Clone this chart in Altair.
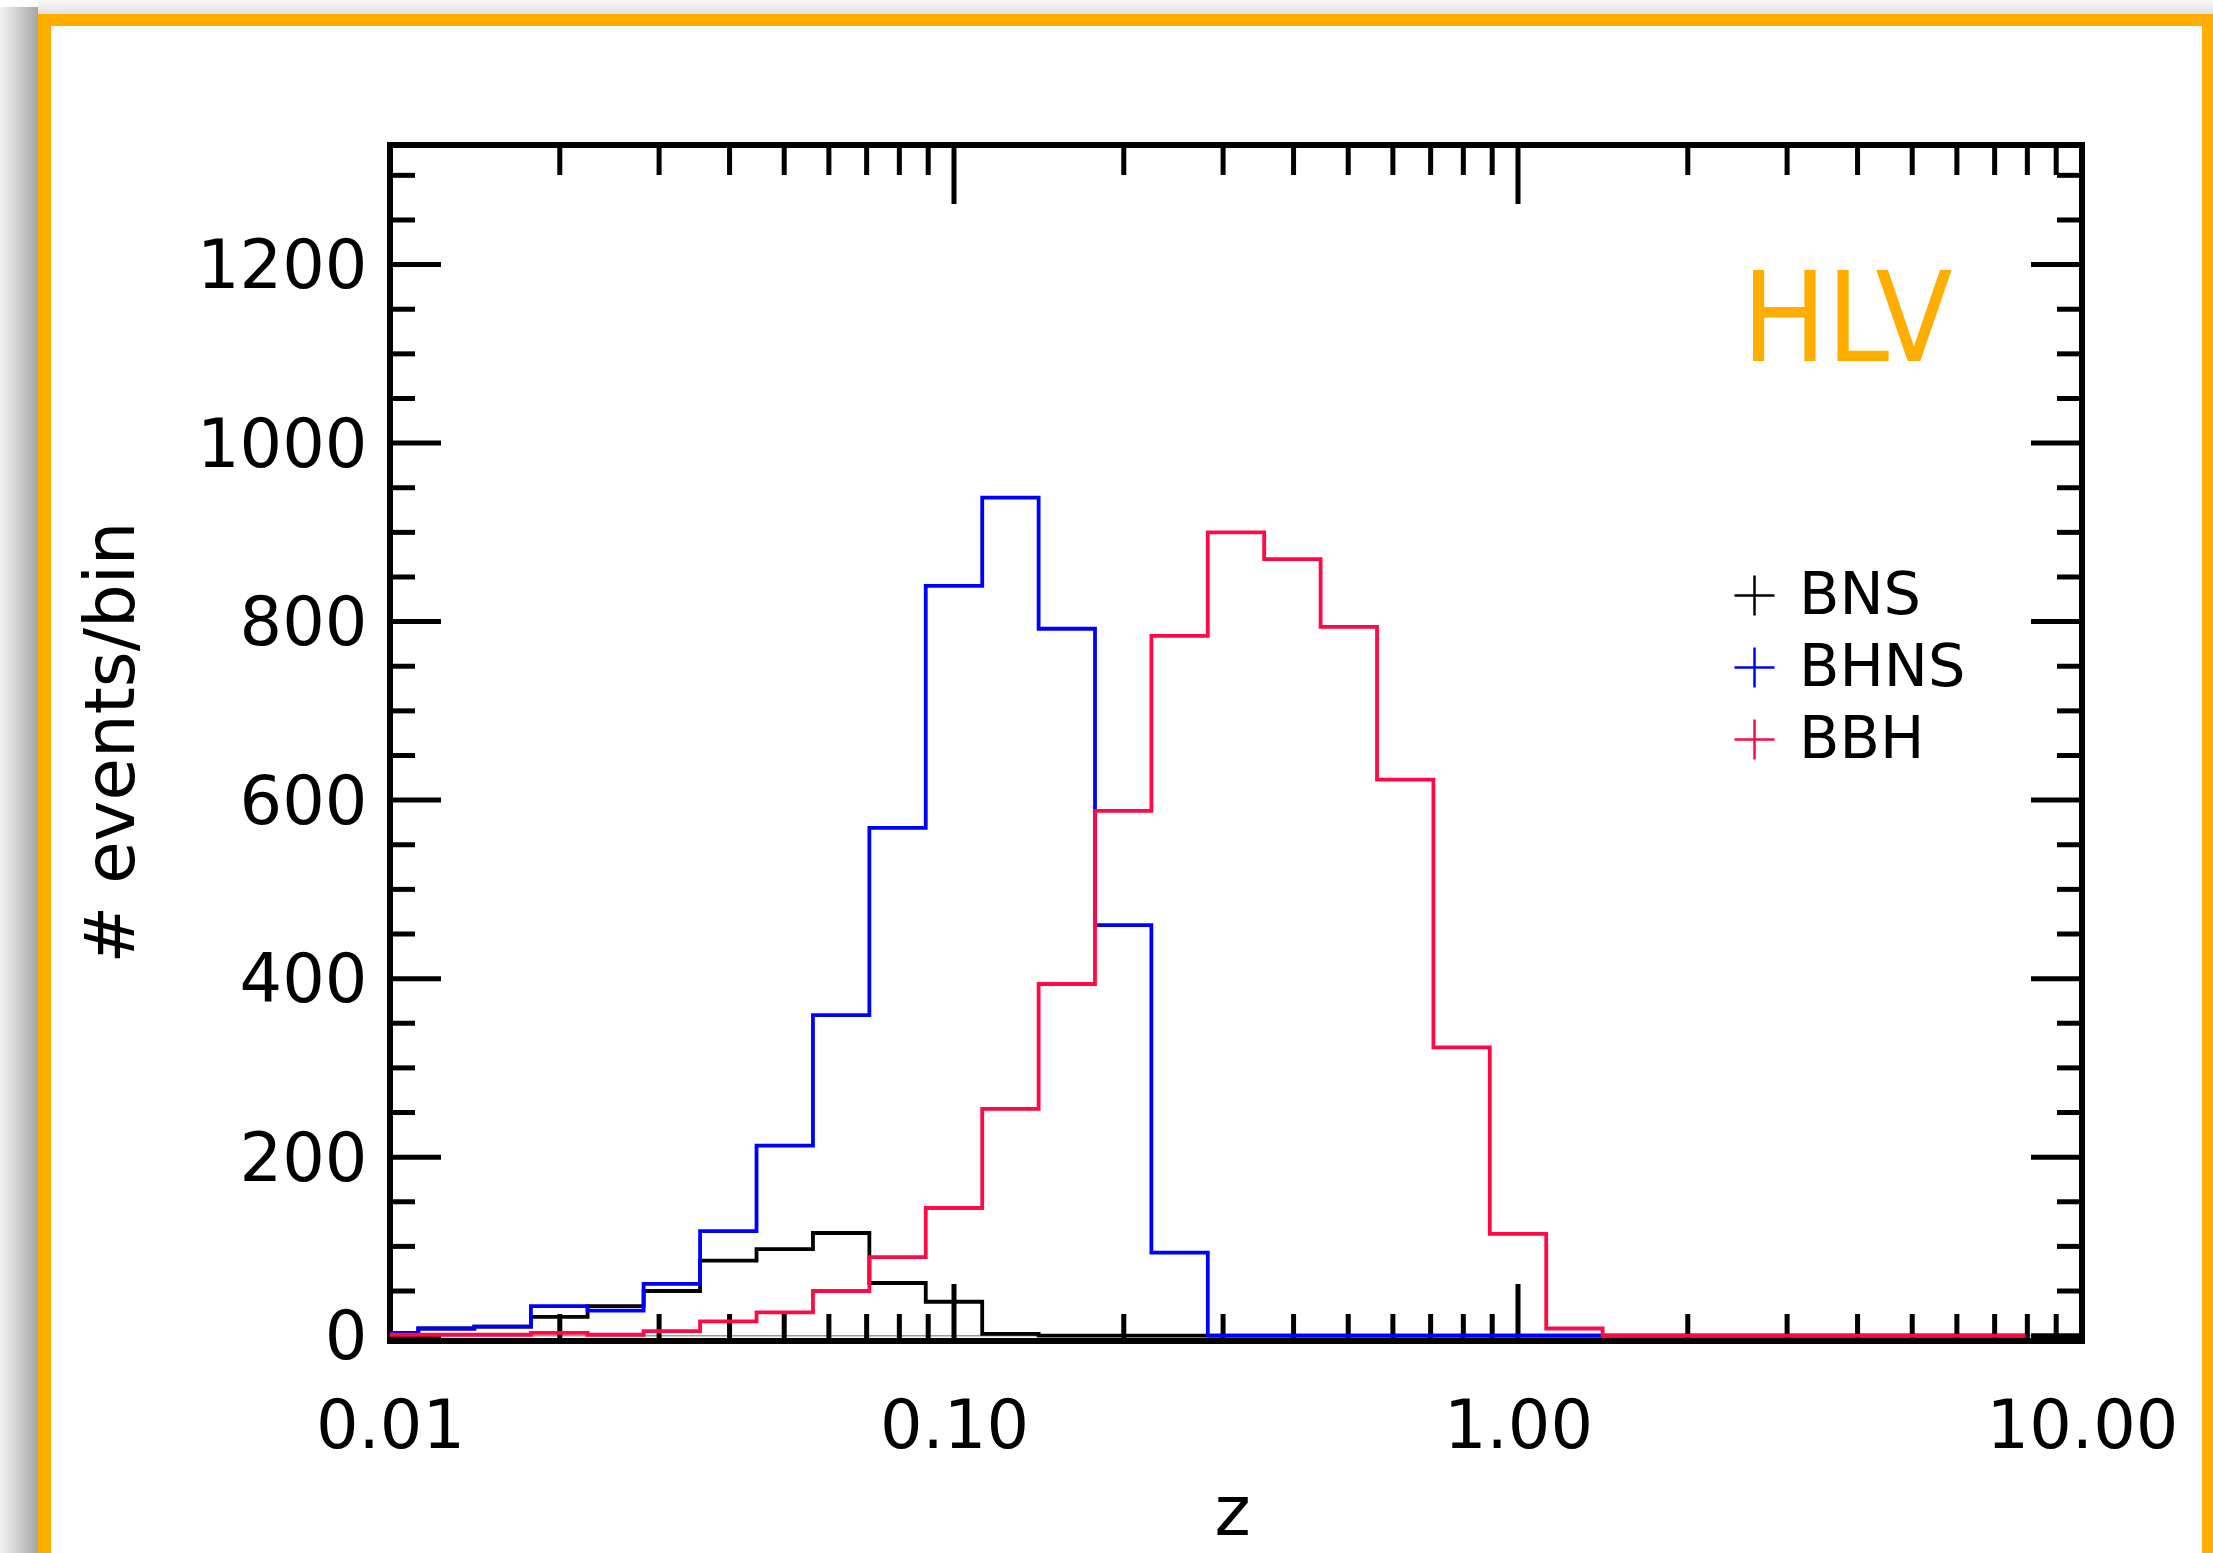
import altair as alt
import pandas as pd

# ---------------- data ----------------
series_names = ["BNS", "BHNS", "BBH"]
series_colors = ["#000000", "#0000FF", "#FF0A46"]

# bin centres in z (0.1 dex bins, log10 z = -2.0 ... 0.9)
z_centers = [0.0100, 0.0126, 0.0158, 0.0200, 0.0251, 0.0316, 0.0398, 0.0501, 0.0631, 0.0794,
             0.1000, 0.1259, 0.1585, 0.1995, 0.2512, 0.3162, 0.3981, 0.5012, 0.6310, 0.7943,
             1.0000, 1.2589, 1.5849, 1.9953, 2.5119, 3.1623, 3.9811, 5.0119, 6.3096, 7.9433]

bns = [2, 8, 10, 21, 33, 50, 84, 97, 115, 59, 38, 2, 0, 0, 0,
       0, 0, 0, 0, 0, 0, 0, 0, 0, 0, 0, 0, 0, 0, 0]
bhns = [3, 8, 10, 33, 28, 58, 117, 213, 359, 569, 840, 939, 792, 460, 93,
        0, 0, 0, 0, 0, 0, 0, 0, 0, 0, 0, 0, 0, 0, 0]
bbh = [1, 1, 1, 3, 1, 5, 16, 26, 50, 88, 143, 254, 394, 588, 784,
       900, 870, 794, 623, 323, 114, 8, 0, 0, 0, 0, 0, 0, 0, 0]

x_tick_labels = [0.01, 0.1, 1.0, 10.0]
x_minor_ticks = [0.02, 0.03, 0.04, 0.05, 0.06, 0.07, 0.08, 0.09,
                 0.2, 0.3, 0.4, 0.5, 0.6, 0.7, 0.8, 0.9,
                 2, 3, 4, 5, 6, 7, 8, 9]
y_tick_labels = [0, 200, 400, 600, 800, 1000, 1200]
y_minor_ticks = [50, 100, 150, 250, 300, 350, 450, 500, 550, 650, 700, 750,
                 850, 900, 950, 1050, 1100, 1150, 1250, 1300]

# ---------------- layout ----------------
W, H = 1692, 1196
FONT = "DejaVu Sans"
ORANGE = "#FFAE00"

rows = []
for name, vals in zip(series_names, [bns, bhns, bbh]):
    for z, v in zip(z_centers, vals):
        rows.append({"z": z, "n": v, "series": name})
df = pd.DataFrame(rows)

xs = alt.Scale(type="log", domain=[0.01, 10], nice=False)
ys = alt.Scale(domain=[-6, 1334], nice=False, zero=False)

xaxis = alt.Axis(values=x_tick_labels, format=".2f", labelFont=FONT, labelFontSize=67,
                 labelColor="black", labelPadding=106, labelBaseline="alphabetic",
                 labelFlush=False, labelOverlap=False, labelLimit=0, ticks=False, tickSize=0,
                 domain=False, grid=False, title="z", titleFont=FONT, titleFontSize=69,
                 titleFontWeight="normal", titleColor="black", titleX=842, titleY=193,
                 titleBaseline="alphabetic", titleAlign="center")
yaxis = alt.Axis(values=y_tick_labels, format="d", labelFont=FONT, labelFontSize=67,
                 labelColor="black", labelPadding=23, labelBaseline="middle", labelOffset=3,
                 labelFlush=False, labelOverlap=False, labelLimit=0, ticks=False, tickSize=0,
                 domain=False, grid=False, title="# events/bin", titleFont=FONT,
                 titleFontSize=69, titleFontWeight="normal", titleColor="black",
                 titleAngle=270, titleX=-257, titleY=597, titleBaseline="alphabetic",
                 titleAlign="center", titleLimit=0)


def X(field="z"):
    return alt.X(f"{field}:Q", scale=xs, axis=xaxis)


def Y(field="n"):
    return alt.Y(f"{field}:Q", scale=ys, axis=yaxis)


cscale = alt.Scale(domain=series_names, range=series_colors)
legend = alt.Legend(orient="none", legendX=1335, legendY=421, title=None,
                    symbolType="M-1,0H1M0,-1V1", symbolSize=1600, symbolStrokeWidth=2.5,
                    labelFont=FONT, labelFontSize=59, labelColor="black", labelOffset=15,
                    rowPadding=12, padding=0, labelLimit=0)

one = alt.Data(values=[{}])

# ---------------- decorations: shadow + orange frame ----------------
left_shadow = alt.Chart(one).mark_rect(
    fill=alt.Gradient(gradient="linear", x1=0, x2=1, y1=0, y2=0,
                      stops=[alt.GradientStop(offset=0, color="#f4f4f4"),
                             alt.GradientStop(offset=1, color="#a6a6a6")])
).encode(x=alt.value(-390), x2=alt.value(-352), y=alt.value(-138), y2=alt.value(1408))

top_shadow = alt.Chart(one).mark_rect(
    fill=alt.Gradient(gradient="linear", x1=0, x2=0, y1=0, y2=1,
                      stops=[alt.GradientStop(offset=0, color="#f7f7f7"),
                             alt.GradientStop(offset=1, color="#e2e2e2")])
).encode(x=alt.value(-352), x2=alt.value(1823), y=alt.value(-145), y2=alt.value(-131))

frame_left = alt.Chart(one).mark_rect(color=ORANGE).encode(
    x=alt.value(-352), x2=alt.value(-339), y=alt.value(-131), y2=alt.value(1408))
frame_top = alt.Chart(one).mark_rect(color=ORANGE).encode(
    x=alt.value(-352), x2=alt.value(1823), y=alt.value(-131), y2=alt.value(-119))
frame_right = alt.Chart(one).mark_rect(color=ORANGE).encode(
    x=alt.value(1812), x2=alt.value(1823), y=alt.value(-131), y2=alt.value(1408))

# ---------------- ticks (inward, on all four sides) ----------------
xmaj = pd.DataFrame({"z": x_tick_labels})
xmin = pd.DataFrame({"z": x_minor_ticks})
ymaj = pd.DataFrame({"n": y_tick_labels})
ymin = pd.DataFrame({"n": y_minor_ticks})

TW = 5
tick_layers = [
    alt.Chart(xmaj).mark_rule(color="black", strokeWidth=TW).encode(x=X(), y=alt.value(H), y2=alt.value(H - 57)),
    alt.Chart(xmaj).mark_rule(color="black", strokeWidth=TW).encode(x=X(), y=alt.value(0), y2=alt.value(59)),
    alt.Chart(xmin).mark_rule(color="black", strokeWidth=TW).encode(x=X(), y=alt.value(H), y2=alt.value(H - 27)),
    alt.Chart(xmin).mark_rule(color="black", strokeWidth=TW).encode(x=X(), y=alt.value(0), y2=alt.value(30)),
    alt.Chart(ymaj).mark_rule(color="black", strokeWidth=TW).encode(y=Y(), x=alt.value(0), x2=alt.value(51)),
    alt.Chart(ymaj).mark_rule(color="black", strokeWidth=TW).encode(y=Y(), x=alt.value(W), x2=alt.value(W - 51)),
    alt.Chart(ymin).mark_rule(color="black", strokeWidth=TW).encode(y=Y(), x=alt.value(0), x2=alt.value(25)),
    alt.Chart(ymin).mark_rule(color="black", strokeWidth=TW).encode(y=Y(), x=alt.value(W), x2=alt.value(W - 25)),
]

zero_line = alt.Chart(pd.DataFrame({"n": [0]})).mark_rule(color="#9a9a9a", strokeWidth=1.5).encode(y=Y())

# ---------------- histograms ----------------
hist_layers = []
for name in series_names:
    hist_layers.append(
        alt.Chart(df[df["series"] == name]).mark_line(interpolate="step", strokeWidth=3.8).encode(
            x=X(), y=Y(),
            color=alt.Color("series:N", scale=cscale, legend=legend),
        )
    )

hlv = alt.Chart(one).mark_text(
    text="HLV", font="DejaVu Sans Condensed, Liberation Sans Narrow, Liberation Sans, sans-serif",
    fontSize=125, color=ORANGE, align="left", baseline="alphabetic"
).encode(x=alt.value(1352), y=alt.value(216))

chart = alt.layer(
    left_shadow, top_shadow, frame_left, frame_top, frame_right,
    zero_line, *tick_layers, *hist_layers, hlv
).properties(
    width=W, height=H,
    padding={"left": 390, "top": 145, "right": 131, "bottom": 212},
    autosize=alt.AutoSizeParams(type="none"),
    background="white",
).configure_view(stroke="black", strokeWidth=6, fill="white")

chart.save("out.html", embed_options={"renderer": "svg", "actions": False})
